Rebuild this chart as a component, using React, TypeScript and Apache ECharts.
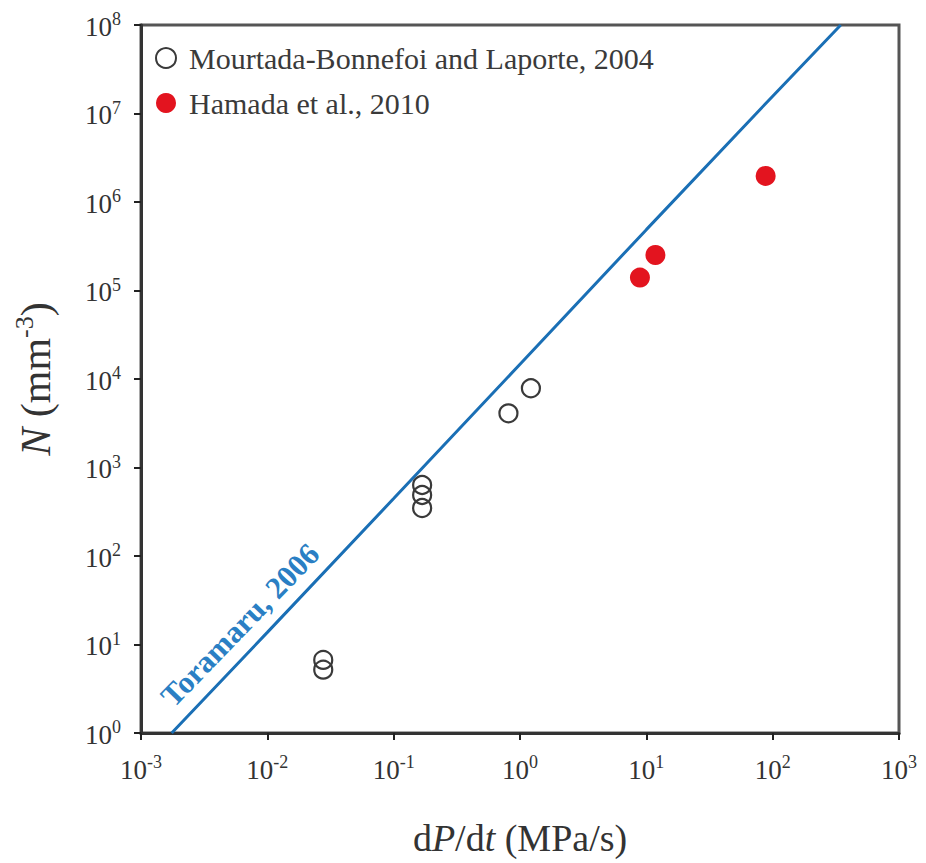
import React, { useEffect, useRef } from "react";
import * as echarts from "echarts";

const xExponents = ["-3", "-2", "-1", "0", "1", "2", "3"];
const yExponents = ["0", "1", "2", "3", "4", "5", "6", "7", "8"];

const mourtadaX = [0.0277, 0.0277, 0.168, 0.168, 0.168, 0.81, 1.22];
const mourtadaY = [6.7, 5.2, 634, 489, 348, 4090, 7850];

const hamadaX = [8.9, 11.8, 88];
const hamadaY = [1.4e5, 2.52e5, 1.97e6];

const toramaruX = [1.75e-3, 1e-2, 1e-1, 1, 10, 100, 346];
const toramaruY = [1, 13.7, 446, 14700, 4.87e5, 1.57e7, 1e8];

const SERIF = "'Liberation Serif', 'Times New Roman', serif";

function expIndex(v: number, offset: number) {
  return Math.round(Math.log10(v)) - offset;
}

export default function App() {
  const ref = useRef<HTMLDivElement>(null);
  useEffect(() => {
    if (!ref.current) return;
    const chart = echarts.init(ref.current, null, { renderer: "svg" });
    const tickRich = {
      b: { fontSize: 27, fontFamily: SERIF, color: "#333", lineHeight: 30, verticalAlign: "bottom" },
      s: { fontSize: 18, fontFamily: SERIF, color: "#333", lineHeight: 18, verticalAlign: "top" },
    };
    chart.setOption({
      animation: false,
      backgroundColor: "#ffffff",
      grid: {
        left: 141,
        right: 27,
        top: 25,
        bottom: 130,
        show: true,
        borderColor: "#555",
        borderWidth: 3,
      },
      legend: {
        left: 155,
        top: 43,
        padding: 0,
        orient: "vertical",
        itemWidth: 20,
        itemHeight: 20,
        itemGap: 15,
        icon: "circle",
        textStyle: {
          fontFamily: SERIF,
          fontSize: 30,
          color: "#3a3a3a",
          padding: [0, 0, 0, 8],
        },
        data: ["Mourtada-Bonnefoi and Laporte, 2004", "Hamada et al., 2010"],
      },
      xAxis: {
        type: "log",
        logBase: 10,
        min: 1e-3,
        max: 1e3,
        interval: 1,
        axisLine: { lineStyle: { color: "#333", width: 3 } },
        axisTick: { show: true, length: 7, lineStyle: { color: "#222", width: 2 } },
        splitLine: { show: false },
        minorTick: { show: false },
        axisLabel: {
          margin: 20,
          formatter: (v: number) => "{b|10}{s|" + xExponents[expIndex(v, -3)] + "}",
          rich: tickRich,
        },
        name: "{n|d}{i|P}{n|/d}{i|t}{n| (MPa/s)}",
        nameLocation: "middle",
        nameGap: 86,
        nameTextStyle: {
          rich: {
            n: { fontFamily: SERIF, fontSize: 38, color: "#333" },
            i: { fontFamily: SERIF, fontSize: 38, fontStyle: "italic", color: "#333" },
          },
        },
      },
      yAxis: {
        type: "log",
        logBase: 10,
        min: 1,
        max: 1e8,
        interval: 1,
        axisLine: { lineStyle: { color: "#333", width: 3 } },
        axisTick: { show: true, length: 7, lineStyle: { color: "#222", width: 2 } },
        splitLine: { show: false },
        minorTick: { show: false },
        axisLabel: {
          margin: 20,
          formatter: (v: number) => "{b|10}{s|" + yExponents[expIndex(v, 0)] + "}",
          rich: tickRich,
        },
        name: "{i|N}{n| (mm}{s|-3}{n|)}",
        nameLocation: "middle",
        nameGap: 84,
        nameTextStyle: {
          rich: {
            n: { fontFamily: SERIF, fontSize: 42, color: "#333", lineHeight: 46, verticalAlign: "bottom" },
            i: { fontFamily: SERIF, fontSize: 42, fontStyle: "italic", color: "#333", lineHeight: 46, verticalAlign: "bottom" },
            s: { fontFamily: SERIF, fontSize: 26, color: "#333", lineHeight: 26, verticalAlign: "top" },
          },
        },
      },
      graphic: [
        {
          type: "text",
          x: 240,
          y: 625,
          rotation: (46 * Math.PI) / 180,
          style: {
            text: "Toramaru, 2006",
            fontFamily: SERIF,
            fontWeight: "bold",
            fontSize: 31,
            fill: "#2a7fc4",
            textAlign: "center",
            textVerticalAlign: "middle",
          },
          z: 10,
        },
      ],
      series: [
        {
          name: "Toramaru, 2006",
          type: "line",
          data: toramaruX.map((x, i) => [x, toramaruY[i]]),
          showSymbol: false,
          lineStyle: { color: "#1a6fb5", width: 3 },
          z: 1,
        },
        {
          name: "Mourtada-Bonnefoi and Laporte, 2004",
          type: "scatter",
          data: mourtadaX.map((x, i) => [x, mourtadaY[i]]),
          symbol: "circle",
          symbolSize: 18,
          itemStyle: { color: "rgba(255,255,255,0)", borderColor: "#3a3a3a", borderWidth: 2.2, opacity: 1 },
          z: 3,
        },
        {
          name: "Hamada et al., 2010",
          type: "scatter",
          data: hamadaX.map((x, i) => [x, hamadaY[i]]),
          symbol: "circle",
          symbolSize: 20,
          itemStyle: { color: "#e3141f", opacity: 1 },
          z: 3,
        },
      ],
    });
    return () => chart.dispose();
  }, []);
  return (
    <div
      ref={ref}
      style={{ position: "fixed", left: 0, top: 0, width: 926, height: 863, background: "#fff" }}
    />
  );
}
